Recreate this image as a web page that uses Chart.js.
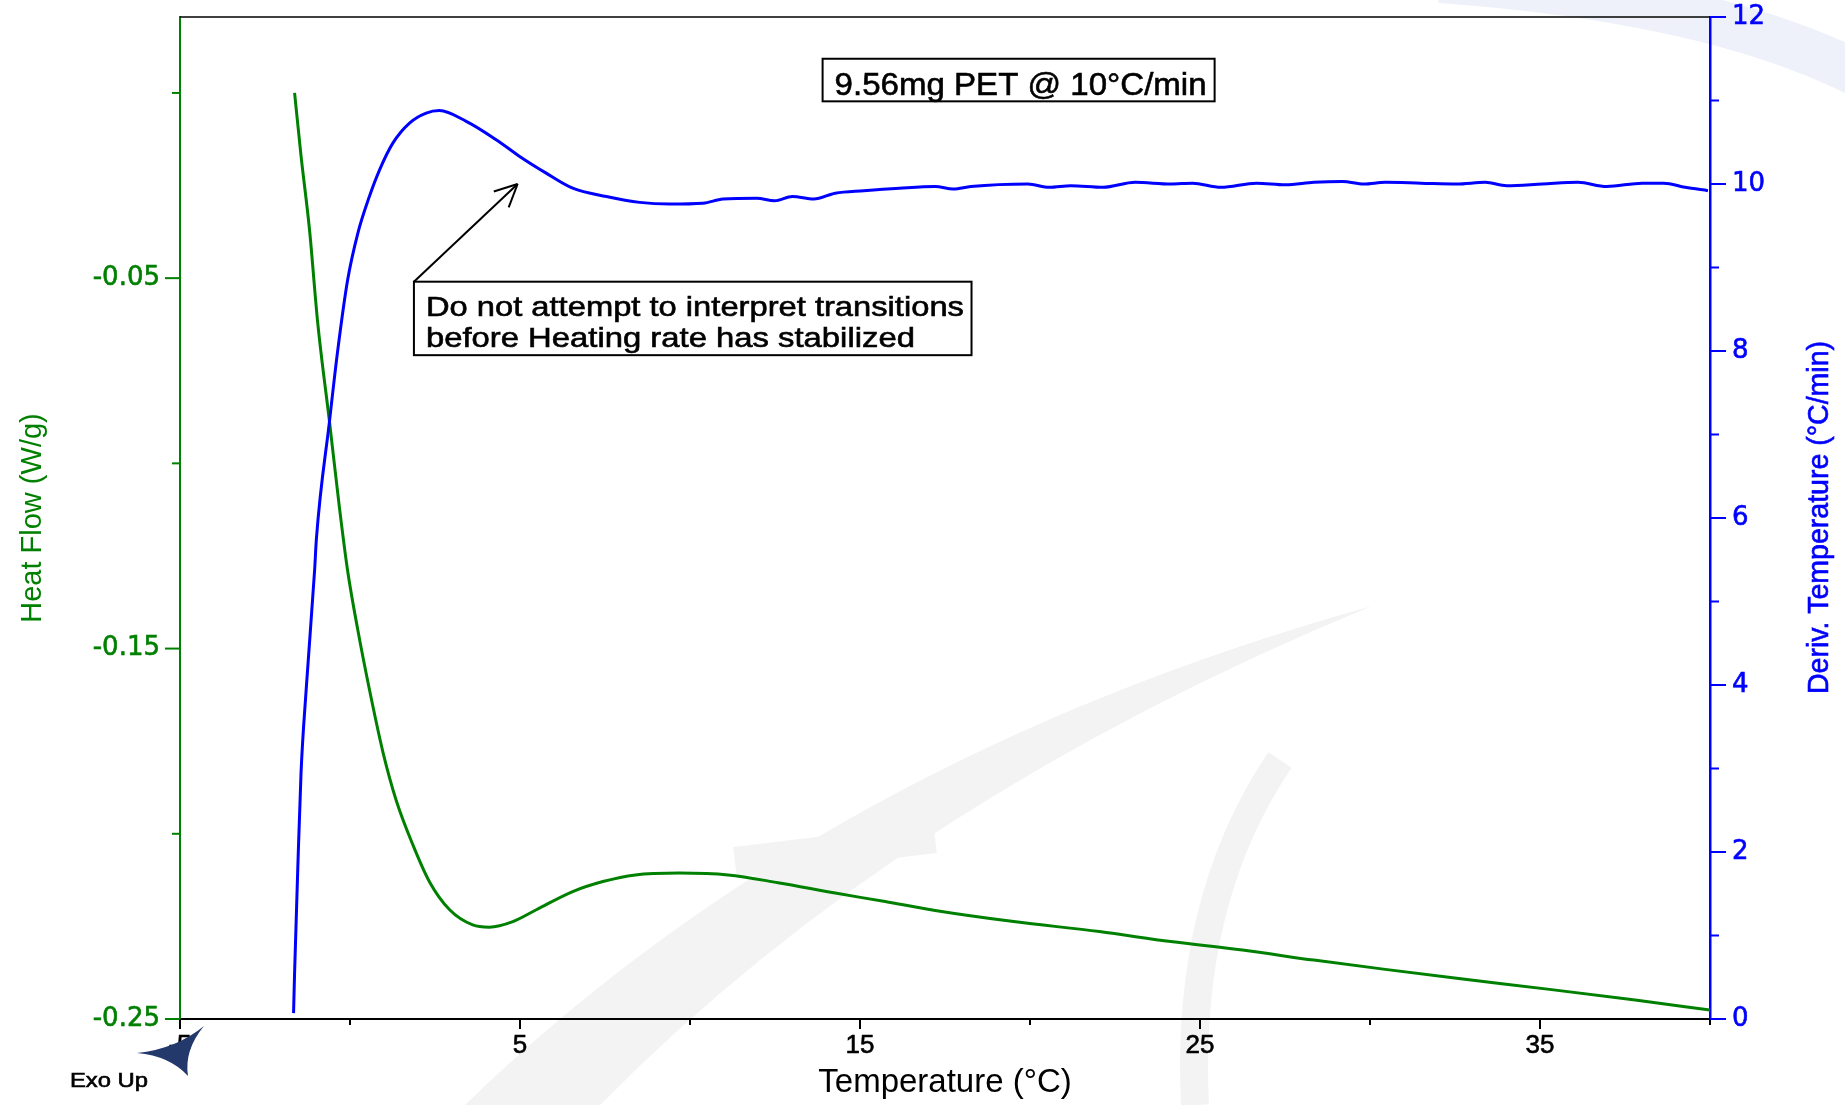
<!DOCTYPE html>
<html>
<head>
<meta charset="utf-8">
<script src="https://cdn.jsdelivr.net/npm/chart.js@4.4.1/dist/chart.umd.min.js"></script>
<style>
  html, body { margin: 0; padding: 0; background: #fff; }
  #wrap { width: 1845px; height: 1105px; position: relative; }
</style>
</head>
<body>
<div id="wrap"><canvas id="chart"></canvas></div>
<script>
// Heat Flow (W/g) vs Temperature (°C) - green, left axis
const hfTemp = [-1.63, -1.44, -1.19, -0.95, -0.60, -0.31, -0.07, 0.23, 0.57, 0.97, 1.36, 1.85, 2.34, 2.93, 3.61, 4.10, 4.79, 5.48, 6.55, 7.44, 8.39, 9.69, 11.12, 12.59, 14.27, 15.74, 17.21, 19.52, 22.04, 24.14, 26.25, 28.35, 30.45, 32.55, 35.28, 37.80, 40.00];
const hfValue = [0.000, -0.017, -0.037, -0.062, -0.089, -0.112, -0.129, -0.145, -0.161, -0.178, -0.191, -0.203, -0.213, -0.2205, -0.2246, -0.2252, -0.2237, -0.2205, -0.2156, -0.2129, -0.2111, -0.2106, -0.2111, -0.2132, -0.2160, -0.2183, -0.2207, -0.2237, -0.2264, -0.2291, -0.2314, -0.2341, -0.2366, -0.2390, -0.2420, -0.2449, -0.2476];

// Deriv. Temperature (°C/min) vs Temperature (°C) - blue, right axis
const dtTemp = [-1.66, -1.63, -1.54, -1.44, -1.29, -1.04, -0.99, -0.60, -0.36, -0.07, 0.23, 0.57, 0.87, 1.26, 1.75, 2.24, 2.63, 3.42, 4.30, 4.99, 5.77, 6.55, 7.54, 8.52, 9.40, 10.38, 10.97, 11.96, 12.49, 13.01, 13.64, 14.27, 15.11, 16.16, 17.21, 17.74, 18.26, 19.94, 20.57, 21.20, 22.15, 23.09, 24.14, 24.78, 25.61, 26.66, 27.51, 28.35, 29.19, 29.82, 30.45, 31.50, 32.55, 33.39, 34.02, 35.07, 36.12, 36.96, 38.01, 38.64, 39.27, 39.94];
const dtValue = [0.07, 0.55, 1.75, 2.95, 3.94, 5.38, 5.74, 7.17, 8.01, 8.85, 9.41, 9.85, 10.17, 10.49, 10.73, 10.85, 10.88, 10.75, 10.53, 10.33, 10.13, 9.95, 9.85, 9.78, 9.76, 9.77, 9.82, 9.83, 9.80, 9.85, 9.82, 9.89, 9.92, 9.95, 9.97, 9.94, 9.97, 10.00, 9.96, 9.98, 9.96, 10.02, 10.00, 10.01, 9.96, 10.01, 9.99, 10.02, 10.03, 10.00, 10.02, 10.01, 10.00, 10.02, 9.98, 10.00, 10.02, 9.97, 10.01, 10.01, 9.96, 9.92];

// axis ticks (all marks) and the ones that carry a label
const xTicks = [-5, 0, 5, 10, 15, 20, 25, 30, 35, 40];
const xLabelled = [-5, 5, 15, 25, 35];
const leftTicks = [-0.25, -0.20, -0.15, -0.10, -0.05, 0.00];
const leftLabelled = [-0.25, -0.15, -0.05];
const rightTicks = [0, 1, 2, 3, 4, 5, 6, 7, 8, 9, 10, 11, 12];
const rightLabelled = [0, 2, 4, 6, 8, 10, 12];

const FONT = "'Liberation Sans', Arial, sans-serif";
const WIDE = "'DejaVu Sans', 'Liberation Sans', sans-serif";
const GREEN = '#008000';
const BLUE = '#0000ff';
const NONE = 'rgba(0,0,0,0)';

const has = (list, v) => list.some(l => Math.abs(l - v) < 1e-9);

// text squeezed/stretched to the width it has in the picture, slightly heavier
function stretchText(ctx, text, x, y, size, width) {
    ctx.font = size + 'px ' + FONT;
    const w = ctx.measureText(text).width;
    ctx.save();
    ctx.translate(x, y);
    ctx.scale(width / w, 1);
    ctx.strokeStyle = ctx.fillStyle;
    ctx.lineWidth = 0.6;
    ctx.strokeText(text, 0, 0);
    ctx.fillText(text, 0, 0);
    ctx.restore();
}

function seg(ctx, x1, y1, x2, y2) {
    ctx.beginPath();
    ctx.moveTo(x1, y1);
    ctx.lineTo(x2, y2);
    ctx.stroke();
}

// white page + faint logo watermark behind everything
const backdrop = {
    id: 'backdrop',
    beforeDraw(chart) {
        const ctx = chart.ctx;
        ctx.save();
        ctx.fillStyle = '#fff';
        ctx.fillRect(0, 0, chart.width, chart.height);

        ctx.fillStyle = '#f3f3f3';
        ctx.beginPath();
        ctx.moveTo(465, 1105);
        ctx.quadraticCurveTo(820, 760, 1372, 606);
        ctx.quadraticCurveTo(900, 800, 600, 1105);
        ctx.closePath();
        ctx.fill();

        ctx.strokeStyle = '#f3f3f3';
        ctx.lineWidth = 30;
        ctx.beginPath();
        ctx.moveTo(735, 862);
        ctx.lineTo(935, 838);
        ctx.stroke();

        ctx.lineWidth = 28;
        ctx.beginPath();
        ctx.moveTo(1195, 1105);
        ctx.quadraticCurveTo(1185, 900, 1280, 760);
        ctx.stroke();

        ctx.strokeStyle = '#eef1fa';
        ctx.lineWidth = 46;
        ctx.beginPath();
        ctx.moveTo(1440, -20);
        ctx.quadraticCurveTo(1720, 0, 1870, 80);
        ctx.stroke();
        ctx.restore();
    }
};

// tick marks: long for labelled values, short for the others
const tickMarks = {
    id: 'tickMarks',
    afterDraw(chart) {
        const {ctx, chartArea: a, scales} = chart;
        ctx.save();
        ctx.lineWidth = 2;

        ctx.strokeStyle = '#000';
        xTicks.forEach(v => {
            const x = scales.x.getPixelForValue(v);
            seg(ctx, x, a.bottom, x, a.bottom + (has(xLabelled, v) ? 10 : 6));
        });

        ctx.strokeStyle = GREEN;
        leftTicks.forEach(v => {
            const y = scales.yL.getPixelForValue(v);
            seg(ctx, a.left, y, a.left - (has(leftLabelled, v) ? 15 : 8), y);
        });

        ctx.strokeStyle = BLUE;
        rightTicks.forEach(v => {
            const y = scales.yR.getPixelForValue(v);
            seg(ctx, a.right, y, a.right + (has(rightLabelled, v) ? 16 : 9), y);
        });

        // top frame line
        ctx.strokeStyle = '#000';
        ctx.lineWidth = 1.5;
        seg(ctx, a.left, a.top, a.right, a.top);

        // right axis title, reading bottom to top
        ctx.fillStyle = BLUE;
        ctx.textAlign = 'left';
        ctx.textBaseline = 'alphabetic';
        ctx.save();
        ctx.translate(1828, (a.top + a.bottom) / 2);
        ctx.rotate(-Math.PI / 2);
        stretchText(ctx, 'Deriv. Temperature (°C/min)', -176, 0, 29, 353);
        ctx.restore();

        // Exo Up marker
        ctx.fillStyle = '#23386b';
        ctx.beginPath();
        ctx.moveTo(137, 1053);
        ctx.quadraticCurveTo(176, 1049, 204, 1026);
        ctx.quadraticCurveTo(184, 1050, 188, 1076);
        ctx.quadraticCurveTo(170, 1056, 137, 1053);
        ctx.fill();
        ctx.fillStyle = '#000';
        stretchText(ctx, 'Exo Up', 70, 1087, 20, 78);
        ctx.restore();
    }
};

// sample label box and the heating-rate note with its arrow
const notes = {
    id: 'notes',
    afterDatasetsDraw(chart) {
        const {ctx, scales} = chart;
        const px = t => scales.x.getPixelForValue(t);
        const py = d => scales.yR.getPixelForValue(d);
        ctx.save();
        ctx.strokeStyle = '#000';
        ctx.fillStyle = '#000';
        ctx.lineWidth = 2;
        ctx.textAlign = 'left';
        ctx.textBaseline = 'alphabetic';

        // "9.56mg PET" box
        let x1 = px(13.90), y1 = py(11.50), x2 = px(25.43), y2 = py(10.99);
        ctx.fillStyle = '#fff';
        ctx.fillRect(x1, y1, x2 - x1, y2 - y1);
        ctx.strokeRect(x1, y1, x2 - x1, y2 - y1);
        ctx.fillStyle = '#000';
        stretchText(ctx, '9.56mg PET @ 10°C/min', x1 + 12, y1 + 36, 32, 372);

        // note box
        x1 = px(1.88); y1 = py(8.83); x2 = px(18.28); y2 = py(7.95);
        ctx.fillStyle = '#fff';
        ctx.fillRect(x1, y1, x2 - x1, y2 - y1);
        ctx.lineWidth = 2;
        ctx.strokeRect(x1, y1, x2 - x1, y2 - y1);
        ctx.fillStyle = '#000';
        stretchText(ctx, 'Do not attempt to interpret transitions', x1 + 12, y1 + 34, 28, 538);
        stretchText(ctx, 'before Heating rate has stabilized', x1 + 12, y1 + 65, 28, 489);

        // arrow from the box corner towards the overshoot
        const tx = px(4.93), ty = py(10.0);
        ctx.lineWidth = 2;
        seg(ctx, x1, y1, tx, ty);
        const ang = Math.atan2(ty - y1, tx - x1);
        [0.45, -0.45].forEach(d => {
            seg(ctx, tx, ty, tx - 25 * Math.cos(ang + d), ty - 25 * Math.sin(ang + d));
        });
        ctx.restore();
    }
};

new Chart(document.getElementById('chart'), {
    type: 'line',
    data: {
        datasets: [
            {
                label: 'Deriv. Temperature',
                data: dtTemp.map((t, i) => ({x: t, y: dtValue[i]})),
                yAxisID: 'yR',
                borderColor: BLUE,
                borderWidth: 3,
                pointRadius: 0,
                cubicInterpolationMode: 'monotone',
                order: 0
            },
            {
                label: 'Heat Flow',
                data: hfTemp.map((t, i) => ({x: t, y: hfValue[i]})),
                yAxisID: 'yL',
                borderColor: GREEN,
                borderWidth: 3,
                pointRadius: 0,
                cubicInterpolationMode: 'monotone',
                order: 1
            }
        ]
    },
    options: {
        responsive: true,
        maintainAspectRatio: false,
        animation: false,
        layout: { padding: { top: 17, left: 0, right: 0, bottom: 0 } },
        plugins: {
            legend: { display: false },
            tooltip: { enabled: false }
        },
        scales: {
            x: {
                type: 'linear',
                position: 'bottom',
                min: -5,
                max: 40,
                afterBuildTicks: s => { s.ticks = xTicks.map(v => ({value: v})); },
                afterFit: s => { s.height = 86; },
                // invisible tick length only sets the label offset; marks come from tickMarks
                grid: { drawOnChartArea: false, drawTicks: true, tickLength: 11, tickColor: NONE },
                border: { color: '#000', width: 2 },
                ticks: {
                    color: '#000',
                    textStrokeColor: '#000',
                    textStrokeWidth: 0.6,
                    font: { family: FONT, size: 26 },
                    padding: 0,
                    maxRotation: 0,
                    autoSkip: false,
                    callback: v => has(xLabelled, v) ? String(v) : ''
                },
                title: {
                    display: true,
                    text: 'Temperature (°C)',
                    color: '#000',
                    font: { family: FONT, size: 33 },
                    padding: { top: 0, bottom: 2 }
                }
            },
            yL: {
                type: 'linear',
                position: 'left',
                min: -0.25,
                max: 0.0205,
                afterBuildTicks: s => { s.ticks = leftTicks.map(v => ({value: v})); },
                afterFit: s => { s.width = 180; },
                grid: { drawOnChartArea: false, drawTicks: true, tickLength: 20, tickColor: NONE },
                border: { color: GREEN, width: 2 },
                ticks: {
                    color: GREEN,
                    textStrokeColor: GREEN,
                    textStrokeWidth: 0.6,
                    font: { family: WIDE, size: 26 },
                    padding: 0,
                    callback: v => has(leftLabelled, v) ? v.toFixed(2) : ''
                },
                title: {
                    display: true,
                    text: 'Heat Flow (W/g)',
                    color: GREEN,
                    font: { family: FONT, size: 29 },
                    padding: { top: 16, bottom: 0 }
                }
            },
            yR: {
                type: 'linear',
                position: 'right',
                min: 0,
                max: 12,
                afterBuildTicks: s => { s.ticks = rightTicks.map(v => ({value: v})); },
                afterFit: s => { s.width = 135; },
                grid: { drawOnChartArea: false, drawTicks: true, tickLength: 22, tickColor: NONE },
                border: { color: BLUE, width: 2.5 },
                ticks: {
                    color: BLUE,
                    textStrokeColor: BLUE,
                    textStrokeWidth: 0.6,
                    font: { family: WIDE, size: 26 },
                    padding: 0,
                    callback: v => has(rightLabelled, v) ? String(v) : ''
                }
            }
        }
    },
    plugins: [backdrop, tickMarks, notes]
});
</script>
</body>
</html>
